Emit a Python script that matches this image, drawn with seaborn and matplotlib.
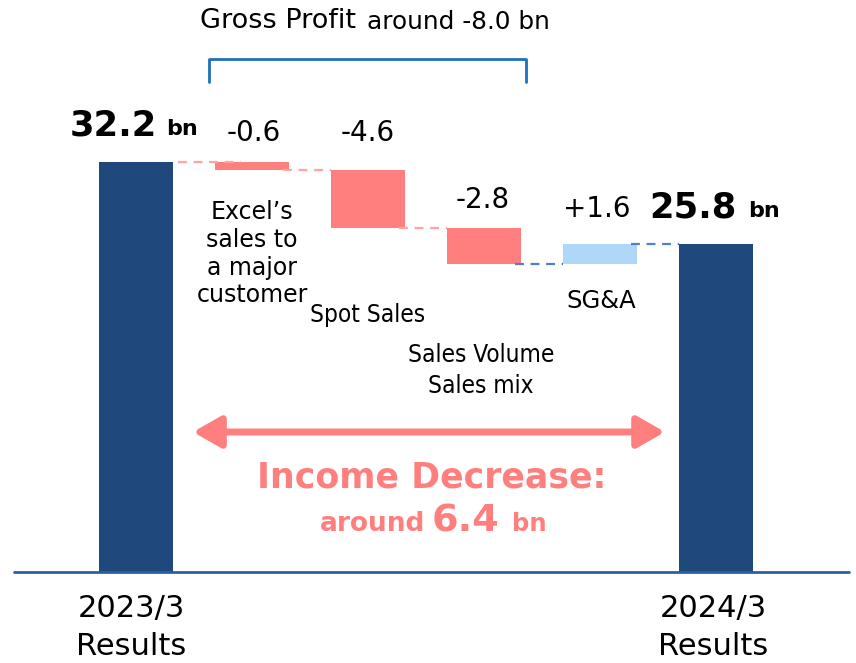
import numpy as np
import pandas as pd
import matplotlib
matplotlib.use("Agg")
import matplotlib.pyplot as plt
import seaborn as sns

# ---- data ----
steps = ["2023/3 Results", "Excel", "Spot", "Volume", "SGA", "2024/3 Results"]
changes = [32.2, -0.6, -4.6, -2.8, 1.6, 25.8]
kinds = ["total", "delta", "delta", "delta", "delta", "total"]
value_labels = ["32.2", "-0.6", "-4.6", "-2.8", "+1.6", "25.8"]
step_notes = ["", "Excel’s\nsales to\na major\ncustomer", "Spot Sales", "Sales Volume\nSales mix", "SG&A", ""]
tick_labels = ["2023/3\nResults", "2024/3\nResults"]
gross_profit_label = "around -8.0 bn"
decrease_value = "6.4"

# ---- waterfall geometry from data ----
bottoms, heights, tops, levels = [], [], [], []
level = 0.0
for c, k in zip(changes, kinds):
    if k == "total":
        b, h = 0.0, c
        level = c
    else:
        new = level + c
        b, h = min(level, new), abs(c)
        level = new
    bottoms.append(b); heights.append(h); tops.append(b + h); levels.append(level)

NAVY = "#1f497d"
PINK = "#ff7f7f"
LBLUE = "#afd7f7"
colors = [NAVY if k == "total" else (PINK if c < 0 else LBLUE) for c, k in zip(changes, kinds)]

df = pd.DataFrame({"step": steps, "height": heights})

sns.set_theme(style="white")
plt.rcParams["font.family"] = ["DejaVu Sans"]
plt.rcParams["text.color"] = "black"

fig = plt.figure(figsize=(8.56, 6.63), dpi=100)
ax = fig.add_axes([0, 0, 1, 1])
sns.barplot(data=df, x="step", y="height", hue="step", palette=colors,
            order=steps, hue_order=steps, legend=False, width=0.63,
            saturation=1, ax=ax)
for p, b in zip(ax.patches, bottoms):
    p.set_y(b)
    p.set_linewidth(0)

px = 116.0
py = 12.73
X = lambda pix: (pix - 136) / px
Y = lambda pix: (572 - pix) / py
ax.set_xlim(X(0), X(856))
ax.set_ylim(Y(663), Y(0))
ax.axis("off")

# baseline
ax.plot([X(14), X(849)], [0, 0], color="#2f5f9f", lw=2, zorder=3)

# connectors
hw = 0.315
for i in range(len(steps) - 1):
    y = levels[i]
    col = "#ffa3a3" if i in (0, 1, 2) else "#4f7fcf"
    x0 = i + hw - (0.05 if i > 0 else -0.05)
    x1 = i + 1 - hw + (0.22 if i == 0 else 0.0)
    ax.plot([x0, x1], [y, y], ls=(0, (4, 3)), color=col, lw=1.6, zorder=1)

# value labels
ax.text(X(70), Y(126), value_labels[0], fontsize=25.5, fontweight="bold", ha="left", va="center")
ax.text(X(166), Y(129), "bn", fontsize=16, fontweight="bold", ha="left", va="center")
ax.text(X(254), Y(133), value_labels[1], fontsize=20, ha="center", va="center")
ax.text(X(368), Y(133), value_labels[2], fontsize=20, ha="center", va="center")
ax.text(X(483), Y(200), value_labels[3], fontsize=20, ha="center", va="center")
ax.text(X(597), Y(209), value_labels[4], fontsize=20, ha="center", va="center")
ax.text(X(649), Y(208), value_labels[5], fontsize=25.5, fontweight="bold", ha="left", va="center")
ax.text(X(748), Y(211), "bn", fontsize=16, fontweight="bold", ha="left", va="center")

# step notes
ax.text(1, Y(200), step_notes[1], fontsize=17, ha="center", va="top", linespacing=1.2)
ax.text(X(368), Y(303), step_notes[2], fontsize=17.5, ha="center", va="top",
        family="DejaVu Sans", fontstretch="condensed")
ax.text(X(481), Y(343), step_notes[3], fontsize=17.5, ha="center", va="top", linespacing=1.38,
        family="DejaVu Sans", fontstretch="condensed")
ax.text(X(601), Y(289), step_notes[4], fontsize=17.5, ha="center", va="top")

# x tick labels
ax.text(X(131), Y(594), tick_labels[0], fontsize=22, ha="center", va="top", linespacing=1.38)
ax.text(X(713), Y(594), tick_labels[1], fontsize=22, ha="center", va="top", linespacing=1.38)

# gross profit bracket
BR = "#1f6fbf"
ax.plot([X(209), X(209), X(526), X(526)], [Y(82), Y(59), Y(59), Y(82)], color=BR, lw=2,
        solid_joinstyle="round")
ax.text(X(200), Y(21), "Gross Profit", fontsize=19.5, ha="left", va="center")
ax.text(X(367), Y(22), gross_profit_label, fontsize=17.8, ha="left", va="center")

# income decrease arrow
ax.annotate("", xy=(X(193), Y(432)), xytext=(X(665), Y(432)),
            arrowprops=dict(arrowstyle="<|-|>,head_length=1.4,head_width=0.8", color=PINK, lw=5,
                            shrinkA=0, shrinkB=0))
ax.text(X(432), Y(478), "Income Decrease:", fontsize=25, fontweight="bold",
        color=PINK, ha="center", va="center")
ax.text(X(320), Y(524), "around", fontsize=19, fontweight="bold",
        color=PINK, ha="left", va="center")
ax.text(X(432), Y(522), decrease_value, fontsize=27.5, fontweight="bold",
        color=PINK, ha="left", va="center")
ax.text(X(512), Y(524), "bn", fontsize=17.5, fontweight="bold",
        color=PINK, ha="left", va="center")

fig.savefig("out.png", dpi=100)
